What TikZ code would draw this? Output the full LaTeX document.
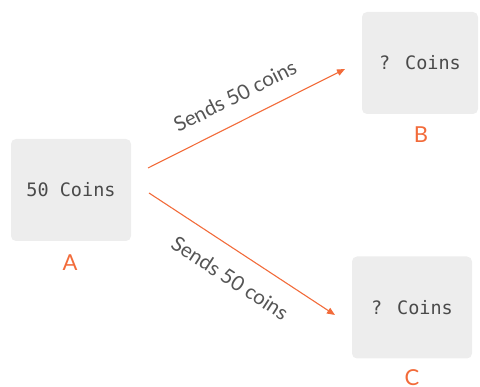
\documentclass[tikz,border=0pt]{standalone}
\usepackage{fontspec}
\setmainfont{Lato}
\newfontfamily\boxmono{DejaVu Sans Mono}
\usetikzlibrary{arrows.meta}
\definecolor{boxfill}{HTML}{EDEDED}
\definecolor{boxtext}{HTML}{4A4A4A}
\definecolor{accent}{HTML}{F26B3A}
\definecolor{labeltext}{HTML}{555555}
\tikzset{
  coinbox/.style={fill=boxfill, draw=none, rounded corners=5pt, minimum width=120pt, minimum height=102pt, inner sep=0pt, text=boxtext, font=\boxmono\fontsize{18.5}{20}\selectfont},
  tag/.style={text=accent, font=\fontsize{22}{24}\selectfont, inner sep=0pt},
  edgelabel/.style={text=labeltext, font=\fontsize{20.5}{23}\selectfont, inner sep=0pt},
  sendarrow/.style={draw=accent, line width=1.1pt, -{Triangle[length=8pt,width=6.5pt]}}
}
\begin{document}
\begin{tikzpicture}[x=1pt,y=-1pt]
\useasboundingbox (0,0) rectangle (480,387);
\node[coinbox] (A) at (71,190) {50 Coins};
\node[coinbox, minimum width=116pt] (B) at (420,63) {? Coins};
\node[coinbox] (C) at (412,307.5) {? Coins};
\node[tag] (tA) at (70,263) {A};
\node[tag] (tB) at (421,135) {B};
\node[tag] (tC) at (412,377.5) {C};
\coordinate (a1) at (148,168);
\coordinate (b1) at (345,69);
\coordinate (a2) at (149,193);
\coordinate (c1) at (335,315);
\draw[sendarrow] (a1) -- (b1);
\draw[sendarrow] (a2) -- (c1);
\node[edgelabel, rotate=26.8] (l1) at (235,96) {Sends 50 coins};
\node[edgelabel, rotate=-33] (l2) at (230,278) {Sends 50 coins};
\end{tikzpicture}
\end{document}
